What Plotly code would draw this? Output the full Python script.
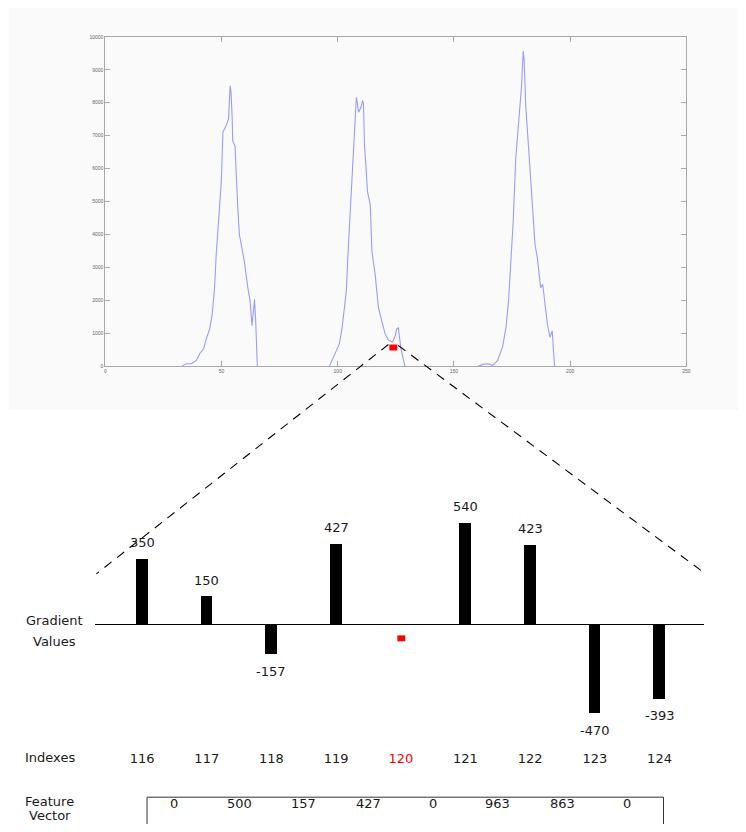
import plotly.graph_objects as go

W, H = 746, 832          # target window
OFF = 8                  # default page margin of the html body
FW, FH = W - 2 * OFF, H - 2 * OFF  # figure size so that page (with body margins) fits the window

# ---------------- data ----------------
# top profile (three peaks)
peak1_x = [32.8, 34.9, 37.0, 39.2, 40.6, 42.3, 43.2, 44.9, 46.0, 47.0, 47.7, 48.4, 49.1, 49.9, 50.6,
           52.0, 53.0, 53.7, 54.1, 54.6, 54.8, 55.8, 56.3, 57.0, 57.7, 59.1, 59.8, 61.3, 62.3, 63.1,
           63.7, 64.2, 64.7, 65.1, 65.4]
peak1_y = [0, 80, 80, 181, 382, 532, 783, 1135, 1586, 2390, 3394, 3996, 4799, 5602, 7108,
           7309, 7510, 8514, 8313, 7510, 6857, 6687, 5703, 4799, 3996, 3494, 3193, 2390, 1988, 1235,
           1586, 2038, 1386, 482, 0]
peak2_x = [96.4, 97.6, 99.0, 100.7, 101.9, 102.8, 103.7, 104.4, 105.4, 106.4, 107.3, 108.0, 108.4,
           109.0, 110.0, 110.7, 111.1, 111.5, 112.3, 112.8, 114.0, 114.7, 116.1, 117.5, 118.9, 120.4,
           121.8, 123.6, 124.7, 125.4, 126.1, 126.5, 127.1, 128.2, 128.9]
peak2_y = [0, 181, 432, 683, 1185, 1687, 2289, 3394, 4699, 6104, 7410, 8163, 8012,
           7711, 7861, 8062, 7962, 6707, 5904, 5301, 4900, 3494, 2791, 1787, 1386, 984,
           803, 733, 934, 1135, 1165, 884, 582, 231, 0]
peak3_x = [160.3, 162.4, 164.5, 166.7, 168.8, 170.9, 172.4, 173.5, 174.5, 175.5, 176.6, 177.6, 178.5,
           179.1, 179.8, 180.2, 180.9, 181.9, 183.0, 184.2, 184.9, 185.9, 186.6, 187.3, 188.2, 189.2,
           190.2, 191.3, 192.3, 192.7, 193.3]
peak3_y = [0, 60, 80, 30, 181, 582, 1185, 1988, 3193, 4398, 6305, 7108, 7912,
           8514, 9568, 9317, 7912, 6807, 5602, 4398, 3695, 3293, 2791, 2390, 2490, 1787,
           1285, 884, 1084, 633, 0]
top_xticks = [0, 50, 100, 150, 200, 250]
top_yticks = [0, 1000, 2000, 3000, 4000, 5000, 6000, 7000, 8000, 9000, 10000]

# lower part
indexes = [116, 117, 118, 119, 120, 121, 122, 123, 124]
gradients = [350, 150, -157, 427, 0, 540, 423, -470, -393]
highlight_index = 120
feature_vector = [0, 500, 157, 427, 0, 963, 863, 0]


def px(x):
    """window pixel x -> paper coordinate"""
    return (x - OFF) / FW


def py(y):
    """window pixel y -> paper coordinate"""
    return 1 - (y - OFF) / FH


FONT = "DejaVu Sans"
TXT = "#1a1a1a"

fig = go.Figure()

# ---------- top profile ----------
prof_x, prof_y = [], []
for xs, ys in ((peak1_x, peak1_y), (peak2_x, peak2_y), (peak3_x, peak3_y)):
    prof_x += xs + [None]
    prof_y += ys + [None]
fig.add_trace(go.Scatter(x=prof_x, y=prof_y, mode="lines", connectgaps=False,
                         line=dict(color="#9a9aff", width=1.1), xaxis="x", yaxis="y",
                         hoverinfo="skip", showlegend=False))

# ---------- lower bars ----------
fig.add_trace(go.Bar(x=indexes, y=gradients, width=0.18, marker=dict(color="black", line=dict(width=0)),
                     xaxis="x2", yaxis="y2", showlegend=False, hoverinfo="skip"))

# lower axis geometry (pixel placement of the schematic)
x_first_px, x_last_px = 142, 663
unit_px = (x_last_px - x_first_px) / (indexes[-1] - indexes[0])
ax2_left, ax2_right = 95, 708
x2_range = [indexes[0] - (x_first_px - ax2_left) / unit_px,
            indexes[-1] + (ax2_right - x_last_px) / unit_px]
zero_px, top_px, bot_px = 626, 440, 751
val_px = 0.19
y2_range = [-(bot_px - zero_px) / val_px, (zero_px - top_px) / val_px]

ticktext = [f'<span style="color:#ff0000">{i}</span>' if i == highlight_index else str(i) for i in indexes]

annotations = []
for i, v in zip(indexes, gradients):
    if v == 0:
        continue
    annotations.append(dict(x=i, y=v, xref="x2", yref="y2", text=str(v), showarrow=False,
                            yshift=16 if v > 0 else -17, font=dict(family=FONT, size=13, color=TXT)))

# feature vector values, between consecutive indexes
for k, fv in enumerate(feature_vector):
    annotations.append(dict(x=indexes[k] + 0.5, y=py(816), xref="x2", yref="paper", text=str(fv),
                            showarrow=False, font=dict(family=FONT, size=13, color=TXT)))

# row labels
for text, x, y in (("Gradient", 54, 622), ("Values", 54, 643), ("Indexes", 49, 760),
                   ("Feature", 49, 804), ("Vector", 49, 818)):
    annotations.append(dict(x=px(x), y=py(y), xref="paper", yref="paper", text=text, showarrow=False,
                            xanchor="center", yanchor="middle", font=dict(family=FONT, size=13, color=TXT)))

shapes = [
    # faint grey backdrop of the screenshot
    dict(type="rect", xref="paper", yref="paper", x0=px(8), x1=px(746), y0=py(410), y1=py(5),
         fillcolor="#fafafa", line=dict(width=0), layer="below"),
    # red markers
    dict(type="rect", xref="paper", yref="paper", x0=px(391), x1=px(399), y0=py(350), y1=py(344),
         fillcolor="#ff0000", line=dict(width=0)),
    dict(type="rect", xref="paper", yref="paper", x0=px(399), x1=px(407), y0=py(643), y1=py(637),
         fillcolor="#ff0000", line=dict(width=0)),
    # zoom dashed lines
    dict(type="line", xref="paper", yref="paper", x0=px(390), y0=py(344), x1=px(96), y1=py(575),
         line=dict(color="black", width=1.1, dash="9px,7px")),
    dict(type="line", xref="paper", yref="paper", x0=px(400), y0=py(345), x1=px(708), y1=py(574),
         line=dict(color="black", width=1.1, dash="9px,7px")),
    # feature vector box
    dict(type="rect", xref="paper", yref="paper", x0=px(147), x1=px(667), y0=py(845), y1=py(800),
         line=dict(color="#333333", width=1), fillcolor="rgba(0,0,0,0)"),
]

top_axis_common = dict(showgrid=False, zeroline=False, showline=True, linecolor="#a8a8a8", linewidth=1,
                       mirror="ticks", ticks="inside", ticklen=5, tickcolor="#a8a8a8", tickwidth=1,
                       tickfont=dict(family="Liberation Sans", size=5, color="#666666"))

fig.update_layout(
    width=FW, height=FH, margin=dict(l=0, r=0, t=0, b=0),
    paper_bgcolor="white", plot_bgcolor="rgba(0,0,0,0)",
    showlegend=False, bargap=0,
    xaxis=dict(domain=[px(105), px(690)], range=[0, 250], tickvals=top_xticks,
               ticktext=[str(v) for v in top_xticks], anchor="y", **top_axis_common),
    yaxis=dict(domain=[py(366), py(34)], range=[0, 10000], tickvals=top_yticks,
               ticktext=[str(v) for v in top_yticks], anchor="x", **top_axis_common),
    xaxis2=dict(domain=[px(ax2_left), px(ax2_right)], range=x2_range, anchor="y2",
                tickvals=indexes, ticktext=ticktext, ticks="", showline=False, showgrid=False,
                zeroline=False, tickfont=dict(family=FONT, size=13, color=TXT)),
    yaxis2=dict(domain=[py(bot_px), py(top_px)], range=y2_range, anchor="x2", visible=True,
                showticklabels=False, ticks="", showgrid=False, showline=False,
                zeroline=True, zerolinecolor="black", zerolinewidth=1.4),
    annotations=annotations, shapes=shapes,
)

fig.write_html("out.html")
